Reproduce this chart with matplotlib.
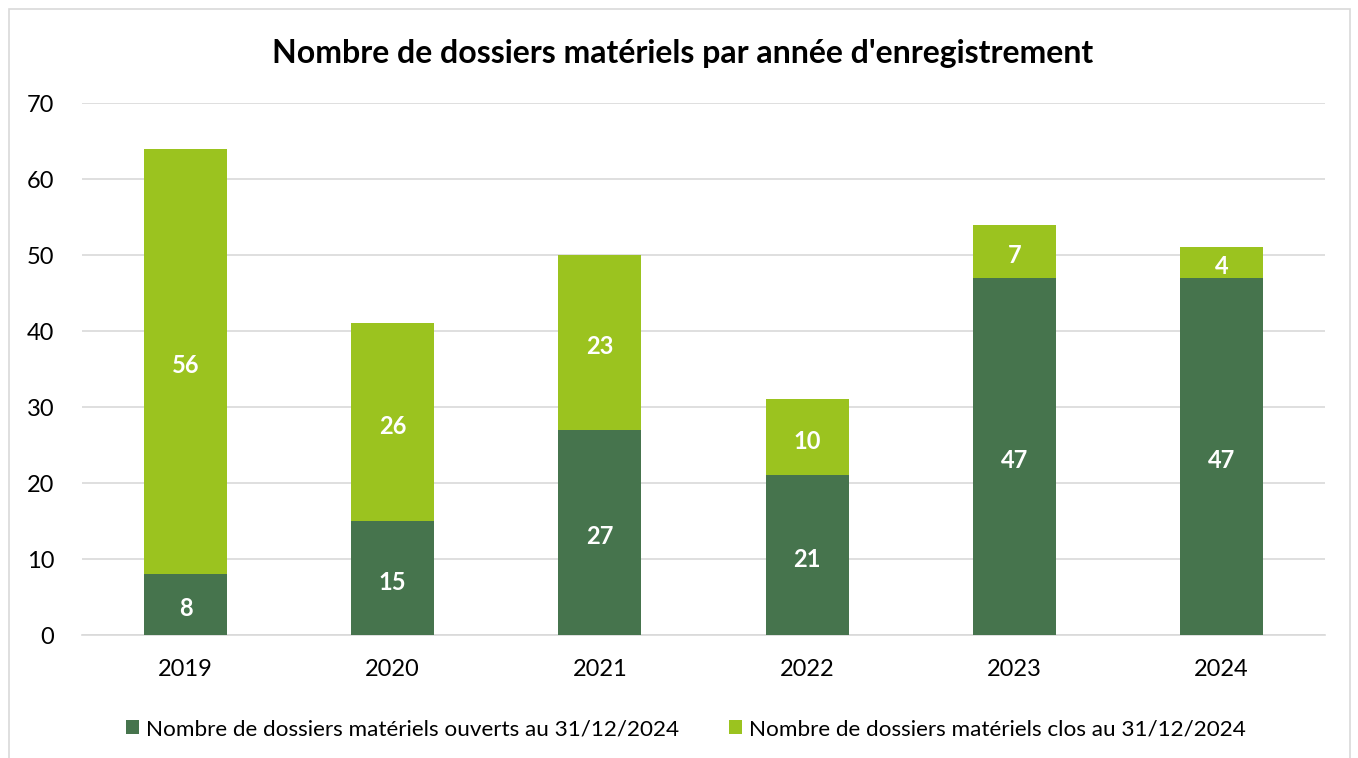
import matplotlib
matplotlib.use("Agg")
import matplotlib.pyplot as plt
from matplotlib.patches import Rectangle
import numpy as np

years = ["2019", "2020", "2021", "2022", "2023", "2024"]
ouverts = [8, 15, 27, 21, 47, 47]
clos = [56, 26, 23, 10, 7, 4]
labels = ["Nombre de dossiers matériels ouverts au 31/12/2024",
          "Nombre de dossiers matériels clos au 31/12/2024"]
title = "Nombre de dossiers matériels par année d'enregistrement"

plt.rcParams['font.family'] = ['Lato', 'DejaVu Sans']

dark = "#46744D"
light = "#9BC31F"

fig = plt.figure(figsize=(13.58, 7.58), dpi=100)
fig.patches.append(Rectangle((9/1358, -0.02), (1350-9)/1358, 1-9/758+0.02,
                             transform=fig.transFigure, fill=False,
                             edgecolor="#D9D9D9", linewidth=1.2))
ax = fig.add_axes([82/1358, 1-635/758, (1325-82)/1358, (635-103)/758])

x = np.arange(len(years))
w = 0.4
b1 = ax.bar(x, ouverts, width=w, color=dark, label=labels[0], zorder=3)
b2 = ax.bar(x, clos, width=w, bottom=ouverts, color=light, label=labels[1], zorder=3)

for i in range(len(years)):
    ax.annotate(str(ouverts[i]), (x[i], ouverts[i]/2), xytext=(0, -3),
                textcoords="offset points", ha="center", va="center",
                color="white", fontsize=17, fontweight="bold", zorder=4)
    ax.annotate(str(clos[i]), (x[i], ouverts[i] + clos[i]/2), xytext=(0, -3),
                textcoords="offset points", ha="center", va="center",
                color="white", fontsize=17, fontweight="bold", zorder=4)

ax.set_xlim(-0.5, len(years)-0.5)
ax.set_ylim(0, 70)
ax.set_yticks(range(0, 71, 10))
ax.set_xticks(x)
ax.set_xticklabels(years)
ax.grid(axis="y", color="#D9D9D9", linewidth=1.2, zorder=0)
for s in ["top", "right", "left"]:
    ax.spines[s].set_visible(False)
ax.spines["bottom"].set_color("#D9D9D9")
ax.spines["bottom"].set_linewidth(1.2)
ax.tick_params(axis="both", length=0, labelsize=17, colors="black")
ax.tick_params(axis="y", pad=20)
ax.tick_params(axis="x", pad=17)

fig.text(0.503, 1-53/758, title, ha="center", va="center",
         fontsize=23, fontweight="bold")

fig.legend(handles=[b1, b2], labels=labels, loc="center",
           bbox_to_anchor=(0.505, 1-729/758), ncol=2, frameon=False,
           fontsize=16.2, handlelength=0.6, handleheight=0.6,
           handletextpad=0.3, columnspacing=2.2)

fig.savefig("out.png", dpi=100)
